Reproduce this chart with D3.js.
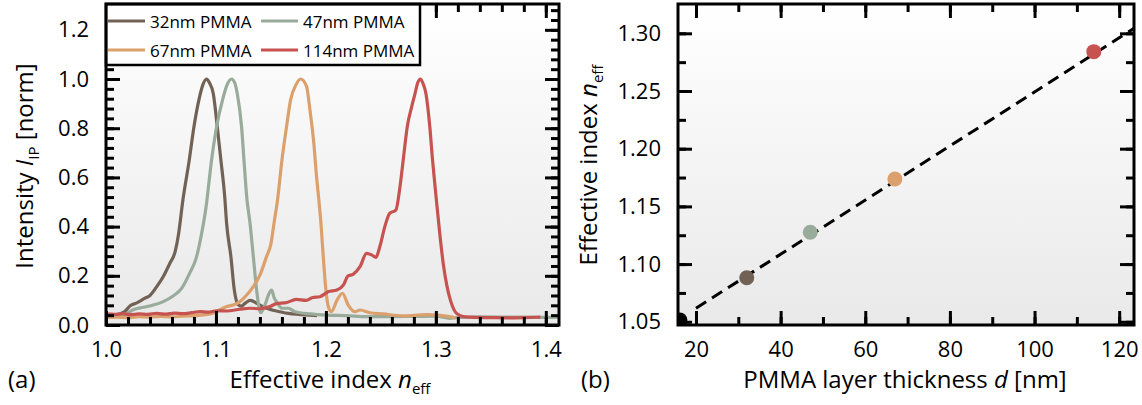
<!DOCTYPE html>
<html>
<head>
<meta charset="utf-8">
<script src="https://cdn.jsdelivr.net/npm/d3@7"></script>
<style>
  body { margin: 0; background: #fff; }
  svg { display: block; font-family: "Open Sans", sans-serif; }
</style>
</head>
<body>
<svg id="chart" width="1142" height="405"></svg>
<script>
// ---- panel (a): spectra, [effective index, normalised intensity]
const curve32 = [
  [1.000,0.040],[1.008,0.042],[1.013,0.046],[1.017,0.055],[1.022,0.078],[1.028,0.090],
  [1.035,0.108],[1.040,0.120],[1.046,0.155],[1.052,0.196],[1.058,0.250],[1.063,0.300],
  [1.066,0.370],[1.070,0.510],[1.0757,0.670],[1.080,0.806],[1.0845,0.915],[1.088,0.975],
  [1.0915,1.000],[1.094,0.985],[1.0976,0.940],[1.1012,0.806],[1.1045,0.670],[1.108,0.520],
  [1.1097,0.413],[1.1136,0.278],[1.1167,0.142],[1.1203,0.082],[1.123,0.077],[1.127,0.090],
  [1.131,0.100],[1.135,0.094],[1.138,0.086],[1.146,0.068],[1.152,0.060],[1.158,0.054],
  [1.166,0.047],[1.175,0.043],[1.185,0.040],[1.192,0.038]
];
const curve47 = [
  [1.000,0.035],[1.010,0.038],[1.018,0.045],[1.0248,0.062],[1.034,0.072],[1.043,0.081],
  [1.052,0.095],[1.061,0.118],[1.0688,0.149],[1.076,0.210],[1.0824,0.278],[1.087,0.373],
  [1.091,0.480],[1.096,0.670],[1.1006,0.806],[1.106,0.915],[1.110,0.975],[1.1142,1.000],
  [1.117,0.985],[1.1194,0.940],[1.1233,0.806],[1.1255,0.670],[1.128,0.520],[1.131,0.413],
  [1.134,0.278],[1.137,0.142],[1.1406,0.050],[1.1445,0.080],[1.148,0.125],[1.1506,0.142],
  [1.153,0.110],[1.155,0.095],[1.158,0.075],[1.160,0.068],[1.1657,0.068],[1.172,0.054],
  [1.1855,0.045],[1.2006,0.040],[1.2188,0.038],[1.237,0.034],[1.258,0.034],[1.279,0.035],
  [1.300,0.036],[1.3127,0.027],[1.318,0.030],[1.340,0.033],[1.370,0.032],[1.400,0.031],
  [1.412,0.032]
];
const curve67 = [
  [1.000,0.030],[1.010,0.032],[1.020,0.030],[1.030,0.034],[1.040,0.032],[1.050,0.035],
  [1.060,0.033],[1.070,0.036],[1.080,0.038],[1.090,0.042],[1.0985,0.050],[1.1036,0.062],
  [1.110,0.075],[1.1157,0.081],[1.1218,0.095],[1.128,0.122],[1.134,0.156],[1.140,0.203],
  [1.146,0.278],[1.150,0.330],[1.153,0.420],[1.156,0.508],[1.160,0.670],[1.1642,0.806],
  [1.1679,0.915],[1.1727,0.976],[1.177,1.000],[1.1824,0.970],[1.1855,0.874],[1.189,0.740],
  [1.1915,0.603],[1.1936,0.508],[1.1955,0.413],[1.1976,0.278],[1.200,0.142],[1.2025,0.070],
  [1.205,0.054],[1.210,0.100],[1.215,0.129],[1.2203,0.081],[1.2264,0.054],[1.231,0.061],
  [1.240,0.050],[1.252,0.045],[1.2703,0.037],[1.2915,0.042],[1.3127,0.034],[1.318,0.028]
];
const curve114 = [
  [1.000,0.045],[1.008,0.043],[1.015,0.046],[1.022,0.042],[1.030,0.045],[1.038,0.043],
  [1.046,0.047],[1.055,0.044],[1.062,0.048],[1.070,0.046],[1.078,0.050],[1.0855,0.054],
  [1.093,0.052],[1.1006,0.058],[1.110,0.057],[1.1218,0.064],[1.131,0.068],[1.140,0.066],
  [1.149,0.075],[1.155,0.087],[1.164,0.091],[1.173,0.104],[1.182,0.100],[1.188,0.112],
  [1.1945,0.115],[1.202,0.135],[1.210,0.142],[1.216,0.163],[1.220,0.199],[1.225,0.207],
  [1.231,0.237],[1.237,0.291],[1.2415,0.285],[1.2455,0.275],[1.249,0.318],[1.2536,0.400],
  [1.258,0.454],[1.2636,0.467],[1.267,0.549],[1.2703,0.670],[1.274,0.806],[1.278,0.887],
  [1.281,0.940],[1.2835,0.985],[1.286,1.000],[1.288,0.985],[1.291,0.940],[1.2945,0.806],
  [1.297,0.670],[1.300,0.530],[1.3036,0.370],[1.3067,0.250],[1.310,0.160],[1.3133,0.100],
  [1.3188,0.047],[1.325,0.034],[1.335,0.031],[1.350,0.030],[1.365,0.029],[1.380,0.030],
  [1.395,0.032]
];
const seriesNames = ["32nm PMMA", "47nm PMMA", "67nm PMMA", "114nm PMMA"];
const seriesColors = ["#726255", "#99ab9a", "#dba06b", "#c75350"];

// ---- panel (b): peak position vs layer thickness
const thickness = [32, 47, 67, 114];
const peakIndex = [1.0882, 1.1276, 1.1737, 1.2841];
const refThickness = [16.2];
const refIndex = [1.0515];
const fitSlope = 0.002344;
const fitIntercept = 1.0148;

// tick labels
const xTicksA = [1.0, 1.1, 1.2, 1.3, 1.4];
const yTicksA = [0.0, 0.2, 0.4, 0.6, 0.8, 1.0, 1.2];
const xTicksB = [20, 40, 60, 80, 100, 120];
const yTicksB = [1.05, 1.10, 1.15, 1.20, 1.25, 1.30];

const svg = d3.select("#chart");
const defs = svg.append("defs");
const grad = defs.append("linearGradient").attr("id", "bg")
  .attr("x1", 0).attr("y1", 0).attr("x2", 0).attr("y2", 1);
grad.append("stop").attr("offset", "0%").attr("stop-color", "#ffffff");
grad.append("stop").attr("offset", "100%").attr("stop-color", "#e9e9e9");

const plotTop = 4, plotBottom = 325;

// builds background, clip, ticks and frame for one panel
function panel(id, x, y, xMajor, xMinor, yMajor, yMinor, xFmt, yFmt) {
  const [x0, x1] = x.range();
  const g = svg.append("g");
  defs.append("clipPath").attr("id", "clip" + id)
    .append("rect").attr("x", x0).attr("y", plotTop).attr("width", x1 - x0).attr("height", plotBottom - plotTop);
  g.append("rect").attr("x", x0).attr("y", plotTop).attr("width", x1 - x0).attr("height", plotBottom - plotTop)
    .attr("fill", "url(#bg)");
  const plot = g.append("g").attr("clip-path", "url(#clip" + id + ")");
  const axes = g.append("g");

  const add = (axis, tx, ty) => {
    const a = axes.append("g").attr("transform", `translate(${tx},${ty})`).call(axis);
    a.select(".domain").remove();
    a.selectAll("line").attr("stroke", "#000").attr("stroke-width", 3);
    a.selectAll("text").attr("font-size", 22).attr("fill", "#000").attr("font-family", "Open Sans");
    return a;
  };
  add(d3.axisBottom(x).tickValues(xMinor).tickSize(-8).tickFormat(""), 0, plotBottom);
  add(d3.axisTop(x).tickValues(xMinor).tickSize(-8).tickFormat(""), 0, plotTop);
  add(d3.axisLeft(y).tickValues(yMinor).tickSize(-8).tickFormat(""), x0, 0);
  add(d3.axisRight(y).tickValues(yMinor).tickSize(-8).tickFormat(""), x1, 0);
  add(d3.axisBottom(x).tickValues(xMajor).tickSize(-14).tickPadding(16).tickFormat(xFmt), 0, plotBottom);
  add(d3.axisTop(x).tickValues(xMajor).tickSize(-14).tickFormat(""), 0, plotTop);
  add(d3.axisLeft(y).tickValues(yMajor).tickSize(-14).tickPadding(17).tickFormat(yFmt), x0, 0);
  add(d3.axisRight(y).tickValues(yMajor).tickSize(-14).tickFormat(""), x1, 0);

  return { g, plot, axes, x0, x1 };
}

// ---------------- panel (a)
const xA = d3.scaleLinear().domain([1.0, 1.412]).range([106, 559]);
const yA = d3.scaleLinear().domain([0, 1.305]).range([plotBottom, plotTop]);
const pa = panel("a", xA, yA, xTicksA, d3.range(1.0, 1.411, 0.02), yTicksA, d3.range(0, 1.3, 0.04),
  d3.format(".1f"), d3.format(".1f"));

const line = d3.line().x(d => xA(d[0])).y(d => yA(d[1])).curve(d3.curveMonotoneX);
[curve32, curve47, curve67, curve114].forEach((c, i) => {
  pa.plot.append("path").datum(c).attr("d", line)
    .attr("fill", "none").attr("stroke", seriesColors[i]).attr("stroke-width", 3.2)
    .attr("stroke-linejoin", "round");
});

// legend
const lg = pa.g.append("g");
lg.append("rect").attr("x", 106).attr("y", plotTop).attr("width", 314).attr("height", 61)
  .attr("fill", "#fff").attr("stroke", "#000").attr("stroke-width", 2.5);
const legPos = [[108, 21], [261, 21], [108, 50], [261, 50]];
seriesNames.forEach((name, i) => {
  const [lx, ly] = legPos[i];
  lg.append("line").attr("x1", lx).attr("x2", lx + 37).attr("y1", ly).attr("y2", ly)
    .attr("stroke", seriesColors[i]).attr("stroke-width", 3.2);
  lg.append("text").attr("x", lx + 42).attr("y", ly + 6.5).attr("font-size", 17).text(name);
});
pa.g.append("rect").attr("x", 106).attr("y", plotTop).attr("width", 453).attr("height", plotBottom - plotTop)
  .attr("fill", "none").attr("stroke", "#000").attr("stroke-width", 3);

// ---------------- panel (b)
const xB = d3.scaleLinear().domain([15.75, 123.5]).range([678, 1134]);
const yB = d3.scaleLinear().domain([1.0472, 1.3254]).range([plotBottom, plotTop]);
const pb = panel("b", xB, yB, xTicksB, d3.range(20, 121, 10), yTicksB, d3.range(1.05, 1.32, 0.025),
  d3.format("d"), d3.format(".2f"));

const fitX = [20, xB.domain()[1]];
pb.plot.append("line")
  .attr("x1", xB(fitX[0])).attr("y1", yB(fitIntercept + fitSlope * fitX[0]))
  .attr("x2", xB(fitX[1])).attr("y2", yB(fitIntercept + fitSlope * fitX[1]))
  .attr("stroke", "#000").attr("stroke-width", 3).attr("stroke-dasharray", "12,7");
pb.plot.selectAll("circle.ref").data(refThickness).enter().append("circle")
  .attr("cx", d => xB(d)).attr("cy", (d, i) => yB(refIndex[i])).attr("r", 7.5).attr("fill", "#000");
pb.plot.selectAll("circle.pt").data(thickness).enter().append("circle")
  .attr("cx", d => xB(d)).attr("cy", (d, i) => yB(peakIndex[i])).attr("r", 7.5)
  .attr("fill", (d, i) => seriesColors[i]);
pb.g.append("rect").attr("x", 678).attr("y", plotTop).attr("width", 456).attr("height", plotBottom - plotTop)
  .attr("fill", "none").attr("stroke", "#000").attr("stroke-width", 3);

// ---------------- titles
const title = (x, y, parts, rotate) => {
  const t = svg.append("text").attr("font-size", 24).attr("text-anchor", "middle")
    .attr("transform", `translate(${x},${y})` + (rotate ? " rotate(-90)" : ""));
  parts.forEach(p => {
    const s = t.append("tspan").text(p.t);
    if (p.i) s.attr("font-style", "italic");
    if (p.sub) s.attr("font-size", 15).attr("dy", 6);
    if (p.up) s.attr("dy", -6);
  });
  return t;
};
title(330, 388, [{ t: "Effective index " }, { t: "n", i: 1 }, { t: "eff", sub: 1 }]);
title(905, 388, [{ t: "PMMA layer thickness " }, { t: "d", i: 1 }, { t: " [nm]" }]);
title(33, 166, [{ t: "Intensity " }, { t: "I", i: 1 }, { t: "IP", sub: 1 }, { t: " [norm]", up: 1 }], true);
title(597, 165, [{ t: "Effective index " }, { t: "n", i: 1 }, { t: "eff", sub: 1 }], true);
svg.append("text").attr("x", 8).attr("y", 388).attr("font-size", 24).text("(a)");
svg.append("text").attr("x", 581).attr("y", 388).attr("font-size", 24).text("(b)");
</script>
</body>
</html>
